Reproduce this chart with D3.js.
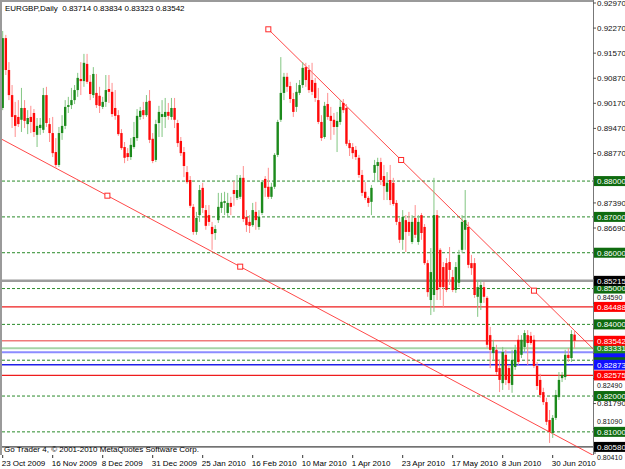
<!DOCTYPE html>
<html><head><meta charset="utf-8">
<script src="https://cdn.jsdelivr.net/npm/d3@7"></script>
<style>html,body{margin:0;padding:0;background:#fff;}svg{display:block;}</style>
</head><body><svg id="c" width="625" height="469"></svg>
<script>
// ---------------- DATA ----------------
const chartTitle = "EURGBP,Daily";
const lastBarOHLC = ["0.83714", "0.83834", "0.83323", "0.83542"];
const footerText = "Go Trader 4, \u00A9 2001-2010 MetaQuotes Software Corp.";

const barOpen = [
 .9004,.9199,.9110,.9040,.8984,.8979,.8971,.9004,.8959,.8979,
 .8990,.8929,.8948,.8943,.9040,.8959,.8934,.8881,.8845,.8934,
 .8954,.9007,.9012,.9026,.9054,.9085,.9079,.9127,.9077,.9040,
 .9046,.9038,.9007,.9021,.9057,.9049,.9004,.8984,.8934,.8895,
 .8878,.8867,.8895,.8920,.8979,.8998,.8984,.9024,.8918,.8859,
 .8962,.8979,.8979,.8993,.8979,.9004,.8962,.8912,.8881,.8825,
 .8803,.8728,.8658,.8705,.8781,.8719,.8705,.8672,.8655,.8691,
 .8725,.8739,.8711,.8739,.8775,.8753,.8756,.8809,.8700,.8686,
 .8677,.8714,.8672,.8711,.8806,.8784,.8756,.8784,.8873,.8971,
 .9046,.9091,.9065,.9029,.9007,.9046,.9068,.9118,.9110,.9082,
 .9074,.9026,.8965,.8923,.9015,.8982,.8971,.8951,.8965,.9018,
 .9004,.8906,.8895,.8887,.8865,.8817,.8770,.8753,.8742,.8823,
 .8842,.8853,.8814,.8770,.8803,.8795,.8739,.8686,.8636,.8691,
 .8686,.8630,.8697,.8630,.8705,.8672,.8571,.8468,.8482,.8705,
 .8608,.8560,.8571,.8574,.8532,.8496,.8516,.8608,.8664,.8672,
 .8571,.8571,.8477,.8460,.8504,.8474,.8370,.8320,.8329,.8278,
 .8236,.8315,.8278,.8231,.8281,.8357,.8315,.8337,.8370,.8368,
 .8357,.8284,.8245,.8211,.8183,.8133,.8097,.8139,.8197,.8250,
 .8253,.8315,.8306,.83714];
const barHigh = [
 .9219,.9208,.9132,.9068,.9021,.9026,.9060,.9026,.8998,.9010,
 .9001,.8976,.8976,.9060,.9063,.8976,.8979,.8920,.8951,.8984,
 .9026,.9035,.9060,.9068,.9102,.9132,.9155,.9155,.9096,.9118,
 .9099,.9063,.9035,.9096,.9096,.9074,.9054,.8998,.8945,.8909,
 .8892,.8920,.8965,.9001,.9007,.9021,.9040,.9054,.8934,.8971,
 .9010,.9026,.9032,.9018,.9032,.9032,.8971,.8923,.8895,.8842,
 .8814,.8736,.8714,.8789,.8795,.8733,.8733,.8686,.8677,.8767,
 .8767,.8770,.8767,.8756,.8800,.8817,.8817,.8842,.8719,.8705,
 .8739,.8742,.8719,.8803,.8814,.8837,.8795,.8878,.8971,.9146,
 .9102,.9102,.9077,.9046,.9074,.9082,.9132,.9130,.9124,.9130,
 .9088,.9060,.8984,.9021,.9046,.9007,.8990,.8993,.9026,.9029,
 .9015,.8915,.8906,.8898,.8873,.8831,.8797,.8758,.8789,.8859,
 .8865,.8865,.8845,.8825,.8845,.8809,.8747,.8697,.8719,.8705,
 .8714,.8705,.8733,.8705,.8711,.8680,.8580,.8613,.8809,.8719,
 .8613,.8574,.8585,.8616,.8552,.8574,.8608,.8705,.8775,.8686,
 .8594,.8585,.8524,.8524,.8518,.8479,.8393,.8357,.8343,.8301,
 .8337,.8329,.8287,.8329,.8343,.8370,.8370,.8384,.8384,.8379,
 .8370,.8295,.8262,.8223,.8195,.8161,.8147,.8217,.8267,.8267,
 .8329,.8334,.8384,.83834];
const barLow = [
 .8998,.9096,.9026,.8948,.8923,.8951,.8937,.8948,.8931,.8934,
 .8923,.8895,.8929,.8934,.8951,.8909,.8867,.8837,.8839,.8915,
 .8945,.8990,.9001,.9015,.9035,.9040,.9063,.9071,.9026,.9032,
 .9004,.8990,.9001,.9007,.9018,.8979,.8971,.8926,.8887,.8850,
 .8856,.8859,.8890,.8912,.8971,.8973,.8979,.8906,.8850,.8853,
 .8923,.8923,.8948,.8971,.8971,.8948,.8895,.8870,.8811,.8792,
 .8725,.8650,.8650,.8686,.8711,.8664,.8675,.8608,.8636,.8683,
 .8711,.8705,.8700,.8705,.8731,.8747,.8750,.8686,.8658,.8655,
 .8672,.8664,.8664,.8705,.8756,.8750,.8750,.8778,.8867,.8965,
 .9026,.9049,.9018,.8979,.8993,.9040,.9060,.9063,.9046,.9040,
 .9021,.8959,.8912,.8918,.8971,.8915,.8929,.8881,.8957,.8990,
 .8898,.8870,.8862,.8859,.8809,.8758,.8747,.8728,.8705,.8797,
 .8797,.8789,.8747,.8747,.8733,.8731,.8677,.8627,.8608,.8602,
 .8647,.8624,.8641,.8622,.8636,.8566,.8477,.8426,.8435,.8468,
 .8468,.8449,.8490,.8510,.8490,.8488,.8504,.8599,.8608,.8557,
 .8538,.8474,.8421,.8440,.8460,.8334,.8278,.8301,.8259,.8211,
 .8217,.8231,.8217,.8209,.8273,.8287,.8306,.8323,.8287,.8343,
 .8278,.8217,.8195,.8175,.8119,.8069,.8083,.8133,.8189,.8239,
 .8245,.8295,.8295,.83323];
const barClose = [
 .9199,.9110,.9040,.8979,.8954,.8959,.9004,.8968,.8976,.8965,
 .8937,.8954,.8957,.9040,.8962,.8934,.8878,.8845,.8934,.8954,
 .9007,.9012,.9026,.9054,.9088,.9079,.9130,.9077,.9043,.9099,
 .9012,.9010,.9021,.9054,.9049,.8987,.8982,.8931,.8892,.8865,
 .8867,.8901,.8923,.8982,.8996,.8984,.9021,.8915,.8856,.8959,
 .8993,.8987,.8993,.8982,.9004,.8971,.8906,.8878,.8842,.8797,
 .8731,.8658,.8697,.8775,.8725,.8675,.8686,.8652,.8666,.8728,
 .8742,.8744,.8739,.8728,.8764,.8775,.8809,.8694,.8677,.8675,
 .8719,.8691,.8700,.8797,.8781,.8756,.8784,.8873,.8965,.9046,
 .9091,.9063,.9029,.8993,.9049,.9068,.9116,.9082,.9054,.9049,
 .9032,.8965,.8920,.9010,.8979,.8968,.8951,.8968,.9007,.8998,
 .8904,.8892,.8878,.8867,.8817,.8767,.8753,.8739,.8781,.8845,
 .8853,.8803,.8786,.8795,.8747,.8736,.8686,.8636,.8700,.8658,
 .8658,.8686,.8650,.8686,.8655,.8571,.8490,.8546,.8705,.8496,
 .8504,.8504,.8496,.8552,.8496,.8560,.8594,.8686,.8691,.8566,
 .8557,.8482,.8504,.8510,.8477,.8343,.8329,.8337,.8267,.8245,
 .8323,.8245,.8236,.8301,.8329,.8295,.8357,.8376,.8348,.8348,
 .8284,.8228,.8203,.8183,.8128,.8100,.8139,.8203,.8245,.8259,
 .8315,.8306,.8373,.83542];

const dateLabels = ["23 Oct 2009","16 Nov 2009","8 Dec 2009","31 Dec 2009","25 Jan 2010","16 Feb 2010",
                    "10 Mar 2010","1 Apr 2010","23 Apr 2010","17 May 2010","8 Jun 2010","30 Jun 2010"];
const dateLabelBars = [0,16,32,48,64,80,96,112,128,144,160,176];

// price scale: free tick labels, labels squeezed next to level labels, ticks fully hidden by level labels
const priceTickLabels = ["0.92970","0.92270","0.91570","0.90870","0.90170","0.89470","0.88770",
  "0.87390","0.86690","0.81790"];
const priceTickSqueezed = ["0.84590","0.82490","0.81090","0.80410"];
const priceTickHidden = ["0.88070","0.85990","0.85290","0.83890","0.83190"];

const roundLevels = [0.88, 0.87, 0.86, 0.85, 0.84, 0.83, 0.82, 0.81];   // dashed green levels
const grayLevels = [0.85215];
const redLevels = [0.84488, 0.82575];
const bidLevels = [0.83542];
const lightGreenLevels = [0.83331];
const lightBlueLevels = [0.83221];
const blueLevels = [0.82873];
const blackLevels = [0.80580];

const upperTrendBars = [85, 170];
const upperTrendPrices = [0.92236, 0.84941];
const lowerTrendBars = [-9, 76];
const lowerTrendPrices = [0.89573, 0.85611];

// ---------------- LAYOUT ----------------
const W = 625, H = 469;
const plot = {left: 2, top: 1, right: 593, bottom: 455};
const barStep = 3.125;
const n = barOpen.length;

const x = d3.scaleLinear().domain([0, n - 1]).range([plot.left + 0.7, plot.left + 0.7 + (n - 1) * barStep]);
const y = d3.scaleLinear().domain([0.9297, 0.8041]).range([3, 453]);

const svg = d3.select("#c");
svg.append("rect").attr("width", W).attr("height", H).attr("fill", "#fff");

const defs = svg.append("defs");
defs.append("clipPath").attr("id", "pc").append("rect")
  .attr("x", plot.left).attr("y", plot.top).attr("width", plot.right - plot.left).attr("height", plot.bottom - plot.top);

const FONT = "Liberation Sans, Arial, sans-serif";

// frame
svg.append("line").attr("x1", 1).attr("x2", 1).attr("y1", 0).attr("y2", plot.bottom)
  .attr("stroke", "#9a9a9a").attr("stroke-width", 2);
svg.append("line").attr("x1", 0).attr("x2", plot.right).attr("y1", 1).attr("y2", 1)
  .attr("stroke", "#9a9a9a").attr("stroke-width", 2);
svg.append("line").attr("x1", plot.right + 0.5).attr("x2", plot.right + 0.5).attr("y1", 0).attr("y2", plot.bottom)
  .attr("stroke", "#777").attr("stroke-width", 1);

const g = svg.append("g").attr("clip-path", "url(#pc)");

// horizontal levels
function hline(v, color, width, dash) {
  const yy = y(v);
  const l = g.append("line").attr("x1", plot.left).attr("x2", plot.right)
    .attr("y1", yy).attr("y2", yy).attr("stroke", color).attr("stroke-width", width);
  if (dash) l.attr("stroke-dasharray", dash);
}
roundLevels.forEach(v => hline(v, "#2a8a2a", 1, "3,2"));
grayLevels.forEach(v => hline(v, "#9c9c9c", 2.5));
redLevels.forEach(v => hline(v, "#ee1c1c", 1.2));
bidLevels.forEach(v => hline(v, "#f07a7a", 1.6));
lightGreenLevels.forEach(v => hline(v, "#a6d4a6", 2));
lightBlueLevels.forEach(v => hline(v, "#8c8cff", 2));
blueLevels.forEach(v => hline(v, "#2020e8", 1.5));
blackLevels.forEach(v => hline(v, "#111", 1));

// trend lines
function trend(bars, prices) {
  const slope = (prices[1] - prices[0]) / (bars[1] - bars[0]);
  const endBar = x.invert(plot.right + 2);
  const p = b => prices[0] + slope * (b - bars[0]);
  g.append("line")
    .attr("x1", x(bars[0])).attr("y1", y(prices[0]))
    .attr("x2", x(endBar)).attr("y2", y(p(endBar)))
    .attr("stroke", "#ff2a2a").attr("stroke-width", 1).attr("opacity", 0.85);
  const mid = (bars[0] + bars[1]) / 2;
  [bars[0], mid, bars[1]].forEach(b => {
    g.append("rect").attr("x", x(b) - 2.5).attr("y", y(p(b)) - 2.5).attr("width", 5).attr("height", 5)
      .attr("fill", "#fff").attr("stroke", "#ff2a2a").attr("stroke-width", 1);
  });
}
trend(upperTrendBars, upperTrendPrices);
trend(lowerTrendBars, lowerTrendPrices);

// candles
const idx = d3.range(n);
const cg = g.append("g");
cg.selectAll("line.w").data(idx).join("line")
  .attr("x1", i => x(i)).attr("x2", i => x(i))
  .attr("y1", i => y(barHigh[i])).attr("y2", i => y(barLow[i]))
  .attr("stroke", i => barClose[i] >= barOpen[i] ? "#82c682" : "#ff8e8e")
  .attr("stroke-width", 1);
cg.selectAll("rect.b").data(idx).join("rect")
  .attr("x", i => x(i) - 1.2).attr("width", 2.4)
  .attr("y", i => y(Math.max(barOpen[i], barClose[i])))
  .attr("height", i => Math.max(1, Math.abs(y(barOpen[i]) - y(barClose[i]))))
  .attr("fill", i => barClose[i] >= barOpen[i] ? "#1c8a1c" : "#ff0a0a");

// header & footer
svg.append("text").attr("x", 5).attr("y", 11).attr("font-family", FONT).attr("font-size", 8).attr("fill", "#000")
  .attr("xml:space", "preserve")
  .text(chartTitle + "  " + lastBarOHLC.join(" "));
svg.append("text").attr("x", 4).attr("y", 452).attr("font-family", FONT).attr("font-size", 8).attr("fill", "#000")
  .text(footerText);

// price axis
const ax = svg.append("g");
priceTickHidden.concat(priceTickLabels, priceTickSqueezed).forEach(s => {
  const yy = y(+s);
  ax.append("line").attr("x1", plot.right).attr("x2", plot.right + 3).attr("y1", yy).attr("y2", yy).attr("stroke", "#555");
});
priceTickLabels.forEach(s => {
  const yy = y(+s);
  ax.append("text").attr("x", 597).attr("y", yy).attr("dy", "0.35em").attr("font-family", FONT).attr("font-size", 8)
    .attr("fill", "#111").text(s);
});

// coloured price labels (drawn in the order the terminal stacks them)
const boxH = 10;
function pbox(v, bg) {
  ax.append("rect").attr("x", 594).attr("y", y(v) - boxH / 2).attr("width", 31).attr("height", boxH).attr("fill", bg);
}
function ptext(v) {
  ax.append("text").attr("x", 597).attr("y", y(v)).attr("dy", "0.35em").attr("font-family", FONT).attr("font-size", 8)
    .attr("fill", "#fff").text(v.toFixed(5));
}
const GREEN = "#0f6b0f";
const BLUE = "#1010ff";
const RED = "#ff0000";
// boxes
roundLevels.forEach(v => pbox(v, GREEN));
grayLevels.forEach(v => pbox(v, "#000"));
blackLevels.forEach(v => pbox(v, "#000"));
lightBlueLevels.forEach(v => pbox(v, BLUE));
lightGreenLevels.forEach(v => pbox(v, "#1f8a1f"));
blueLevels.forEach(v => pbox(v, BLUE));
redLevels.forEach(v => pbox(v, RED));
bidLevels.forEach(v => pbox(v, RED));
// legible texts (the 0.83 round level and the light blue level are covered by neighbours)
roundLevels.filter(v => v !== 0.83).forEach(ptext);
grayLevels.forEach(ptext);
blackLevels.forEach(ptext);
lightGreenLevels.forEach(ptext);
blueLevels.forEach(ptext);
redLevels.forEach(ptext);
bidLevels.forEach(ptext);

// tick labels squeezed into the gaps between level labels
function gapCenter(v) {
  const yy = y(v);
  const boxes = roundLevels.concat(grayLevels, blackLevels, redLevels).map(y);
  const above = d3.max(boxes.filter(b => b < yy - 0.01 && yy - b < 30));
  const below = d3.min(boxes.filter(b => b > yy + 0.01 && b - yy < 30));
  const top = above !== undefined ? above + boxH / 2 : yy - 12;
  const bot = below !== undefined ? below - boxH / 2 : plot.bottom + 8;
  return (top + bot) / 2;
}
priceTickSqueezed.forEach(s => {
  ax.append("text").attr("x", 597).attr("y", gapCenter(+s)).attr("dy", "0.35em").attr("font-family", FONT)
    .attr("font-size", 7).attr("fill", "#111").text(s);
});

// date axis
dateLabelBars.forEach((b, k) => {
  const xx = x(b);
  ax.append("line").attr("x1", xx).attr("x2", xx).attr("y1", plot.bottom).attr("y2", plot.bottom + 3).attr("stroke", "#333");
  ax.append("text").attr("x", xx - 1).attr("y", 466).attr("font-family", FONT).attr("font-size", 8)
    .attr("fill", "#000").text(dateLabels[k]);
});
</script></body></html>
